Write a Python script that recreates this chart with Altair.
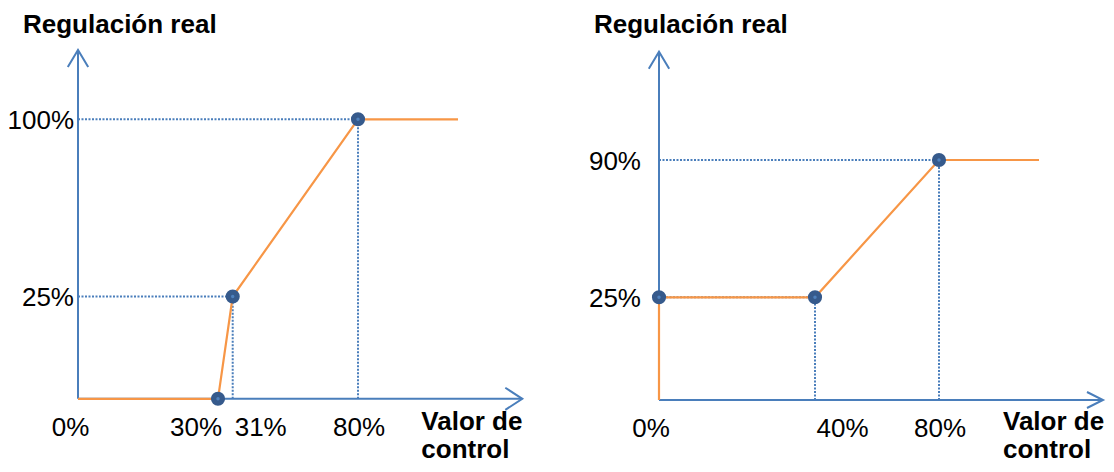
import altair as alt
import pandas as pd

# ---------------- data ----------------
Y_TITLE = "Regulación real"
X_TITLE = ["Valor de", "control"]

L_LINE_X = [0, 30, 31, 80, 100]
L_LINE_Y = [0, 0, 25, 100, 100]
L_DOT_X = [30, 31, 80]
L_DOT_Y = [0, 25, 100]
L_XTICKS = [0, 30, 31, 80]
L_XLABELS = ["0%", "30%", "31%", "80%"]
L_YTICKS = [25, 100]
L_YLABELS = ["25%", "100%"]

R_LINE_X = [0, 0, 40, 80, 100]
R_LINE_Y = [0, 25, 25, 90, 90]
R_DOT_X = [0, 40, 80]
R_DOT_Y = [25, 25, 90]
R_XTICKS = [0, 40, 80]
R_XLABELS = ["0%", "40%", "80%"]
R_YTICKS = [25, 90]
R_YLABELS = ["25%", "90%"]

# ---------------- styles ----------------
BLUE = "#4A7EBB"
ORANGE = "#F79646"
NAVY = "#365A8C"
INNER = "#4F81BD"
FONT = "Liberation Sans"
FS = 26

PANELS = [
    dict(
        line=(L_LINE_X, L_LINE_Y), dots=(L_DOT_X, L_DOT_Y),
        xticks=(L_XTICKS, L_XLABELS), yticks=(L_YTICKS, L_YLABELS),
        x_dom=[0, 30, 31, 80, 100, 120], x_rng=[70, 210, 224.7, 350, 450, 514.3],
        y_dom=[0, 25, 100, 125], y_rng=[390.8, 288.5, 111.3, 42],
        xlab_dx=[-7.5, -22, 28, 1], xlab_dy=37.5, ylab_dx=-4,
        yt_dx=-55, yt_dy=-17, xt_dx=-101, xt_dy=31,
        xhead=("M-1,-0.65L0,0L-1,0.65", 1156), yhead=("M-0.6,1L0,0L0.6,1", 1156),
    ),
    dict(
        line=(R_LINE_X, R_LINE_Y), dots=(R_DOT_X, R_DOT_Y),
        xticks=(R_XTICKS, R_XLABELS), yticks=(R_YTICKS, R_YLABELS),
        x_dom=[0, 40, 80, 100, 120], x_rng=[651, 807, 931, 1031, 1095],
        y_dom=[0, 25, 90, 115], y_rng=[392, 289.3, 152, 43.7],
        xlab_dx=[-8, 27.5, 1], xlab_dy=36.5, ylab_dx=-18,
        yt_dx=-65, yt_dy=-18.4, xt_dx=-100, xt_dy=29.8,
        xhead=("M-1,-0.5L0,0L-1,0.5", 1024), yhead=("M-0.6,1L0,0L0.6,1", 1156),
    ),
]


def panel(p):
    xs = alt.Scale(domain=p["x_dom"], range=p["x_rng"], zero=False, nice=False)
    ys = alt.Scale(domain=p["y_dom"], range=p["y_rng"], zero=False, nice=False)
    X = lambda f: alt.X(f, type="quantitative", scale=xs, axis=None)
    Y = lambda f: alt.Y(f, type="quantitative", scale=ys, axis=None)
    xmax, ymax = p["x_dom"][-1], p["y_dom"][-1]
    lx, ly = p["line"]
    dx_, dy_ = p["dots"]
    xt, xl = p["xticks"]
    yt, yl = p["yticks"]

    layers = []
    # dotted guides
    guides = []
    for a, b in zip(dx_, dy_):
        if b in yt and a > 0:
            guides.append(dict(x=0, x2=a, y=b, y2=b))
        if a in xt and b > 0:
            guides.append(dict(x=a, x2=a, y=0, y2=b))
    layers.append(
        alt.Chart(pd.DataFrame(guides)).mark_rule(
            color=BLUE, strokeWidth=2, strokeDash=[2, 1.5]
        ).encode(x=X("x"), x2="x2", y=Y("y"), y2="y2")
    )
    # axes
    axes = pd.DataFrame([dict(x=0, x2=xmax, y=0, y2=0), dict(x=0, x2=0, y=0, y2=ymax)])
    layers.append(
        alt.Chart(axes).mark_rule(color=BLUE, strokeWidth=2).encode(
            x=X("x"), x2="x2", y=Y("y"), y2="y2")
    )
    # arrow heads
    for (px, py), (path, size) in [((xmax, 0), p["xhead"]), ((0, ymax), p["yhead"])]:
        layers.append(
            alt.Chart(pd.DataFrame([dict(x=px, y=py)])).mark_point(
                shape=path, size=size, filled=False, color=BLUE,
                strokeWidth=2, opacity=1,
            ).encode(x=X("x"), y=Y("y"))
        )
    # orange line
    ldf = pd.DataFrame(dict(x=lx, y=ly, i=list(range(len(lx)))))
    layers.append(
        alt.Chart(ldf).mark_line(color=ORANGE, strokeWidth=2.2).encode(
            x=X("x"), y=Y("y"), order=alt.Order("i:Q"))
    )
    # dots
    ddf = pd.DataFrame(dict(x=dx_, y=dy_))
    layers.append(
        alt.Chart(ddf).mark_circle(size=200, color=NAVY, opacity=1).encode(x=X("x"), y=Y("y"))
    )
    layers.append(
        alt.Chart(ddf).mark_circle(size=12, color=INNER, opacity=1).encode(x=X("x"), y=Y("y"))
    )
    # x tick labels
    for v, lab, off in zip(xt, xl, p["xlab_dx"]):
        layers.append(
            alt.Chart(pd.DataFrame([dict(x=v, y=0, t=lab)])).mark_text(
                font=FONT, fontSize=FS, color="black", align="center",
                baseline="alphabetic", dx=off, dy=p["xlab_dy"],
            ).encode(x=X("x"), y=Y("y"), text="t:N")
        )
    # y tick labels
    ydf = pd.DataFrame(dict(x=[0] * len(yt), y=yt, t=yl))
    layers.append(
        alt.Chart(ydf).mark_text(
            font=FONT, fontSize=FS, color="black", align="right",
            baseline="middle", dx=p["ylab_dx"], dy=1.5,
        ).encode(x=X("x"), y=Y("y"), text="t:N")
    )
    # axis titles
    layers.append(
        alt.Chart(pd.DataFrame([dict(x=0, y=ymax)])).mark_text(
            text=Y_TITLE, font=FONT, fontSize=FS, fontWeight="bold", color="black",
            align="left", baseline="alphabetic", dx=p["yt_dx"], dy=p["yt_dy"],
        ).encode(x=X("x"), y=Y("y"))
    )
    layers.append(
        alt.Chart(pd.DataFrame([dict(x=xmax, y=0)])).mark_text(
            text=X_TITLE, font=FONT, fontSize=FS, fontWeight="bold", color="black",
            align="left", baseline="alphabetic", lineHeight=28,
            dx=p["xt_dx"], dy=p["xt_dy"],
        ).encode(x=X("x"), y=Y("y"))
    )
    return alt.layer(*layers)


chart = (
    alt.layer(*[panel(p) for p in PANELS])
    .resolve_scale(x="independent", y="independent")
    .properties(width=1098, height=456, padding=0, autosize="none", background="white")
    .configure_view(stroke=None)
)

chart.save("out.html", embed_options={"renderer": "svg", "actions": False})
